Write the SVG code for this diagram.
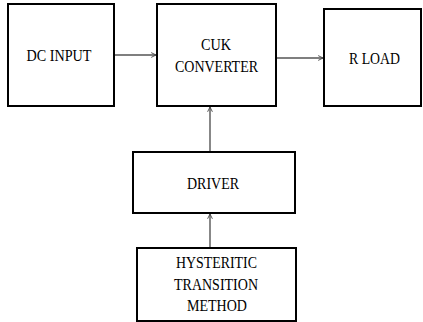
<svg xmlns="http://www.w3.org/2000/svg" width="423" height="322" viewBox="0 0 423 322">
<style>
.box{fill:#fff;stroke:#000;stroke-width:2}
.lbl{font-family:'Liberation Serif','Times New Roman','DejaVu Serif',serif;font-size:17px;fill:#000;text-anchor:middle}
.conn{stroke:#555;stroke-width:1.4;fill:none;marker-end:url(#arr)}
</style>
<defs>
<marker id="arr" viewBox="0 0 10 10" refX="9" refY="5" markerWidth="6" markerHeight="6" markerUnits="userSpaceOnUse" orient="auto">
<path d="M1,1 L9,5 L1,9" fill="none" stroke="#444" stroke-width="1.5"/>
</marker>
</defs>
<rect width="423" height="322" fill="#fff"/>
<g id="connectors">
<line class="conn" x1="114" y1="55" x2="156" y2="55"/>
<line class="conn" x1="276" y1="58" x2="323" y2="58"/>
<line class="conn" x1="210" y1="152" x2="210" y2="107"/>
<line class="conn" x1="210" y1="248" x2="210" y2="214"/>
</g>
<g id="dc-input">
<rect class="box" x="8" y="4" width="106" height="102"/>
<text class="lbl" x="59" y="61" textLength="65" lengthAdjust="spacingAndGlyphs">DC INPUT</text>
</g>
<g id="cuk-converter">
<rect class="box" x="157" y="4" width="119" height="102"/>
<text class="lbl" x="216" y="50" textLength="30" lengthAdjust="spacingAndGlyphs">CUK</text>
<text class="lbl" x="216.5" y="72" textLength="83" lengthAdjust="spacingAndGlyphs">CONVERTER</text>
</g>
<g id="r-load">
<rect class="box" x="324" y="9" width="97" height="97"/>
<text class="lbl" x="374.5" y="64" textLength="51" lengthAdjust="spacingAndGlyphs">R LOAD</text>
</g>
<g id="driver">
<rect class="box" x="133" y="152" width="162" height="61"/>
<text class="lbl" x="213" y="189" textLength="52" lengthAdjust="spacingAndGlyphs">DRIVER</text>
</g>
<g id="hysteritic">
<rect class="box" x="137" y="248" width="159" height="73"/>
<text class="lbl" x="216.5" y="268" textLength="81" lengthAdjust="spacingAndGlyphs">HYSTERITIC</text>
<text class="lbl" x="216" y="290" textLength="84" lengthAdjust="spacingAndGlyphs">TRANSITION</text>
<text class="lbl" x="217" y="311" textLength="60" lengthAdjust="spacingAndGlyphs">METHOD</text>
</g>
</svg>
